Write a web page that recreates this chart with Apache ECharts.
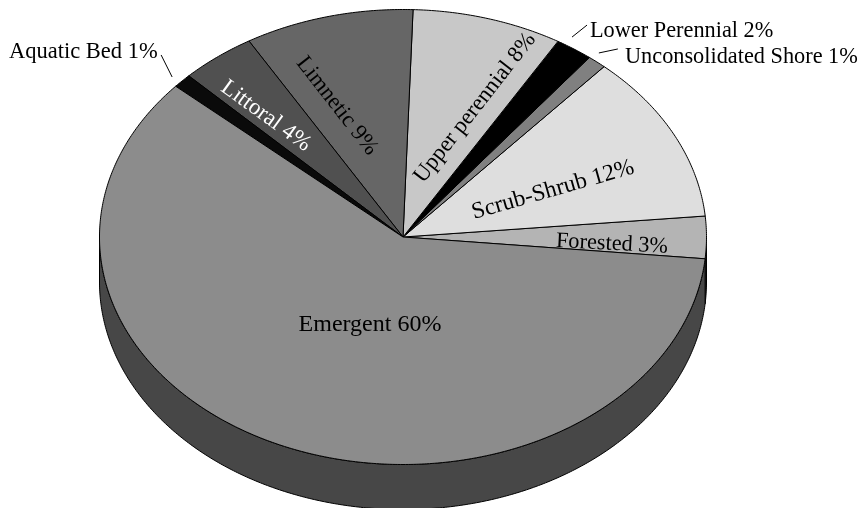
<!DOCTYPE html>
<html>
<head>
<meta charset="utf-8">
<style>html,body{margin:0;padding:0;background:#fff}#c{width:863px;height:508px}</style>
<script src="https://cdn.jsdelivr.net/npm/echarts@6/dist/echarts.min.js"></script>
</head>
<body>
<div id="c"></div>
<script>
// Wetland class shares, in drawing order (counter-clockwise from the Emergent/Forested edge).
var categories = ['Forested', 'Scrub-Shrub', 'Unconsolidated Shore', 'Lower Perennial', 'Upper perennial', 'Limnetic', 'Littoral', 'Aquatic Bed', 'Emergent'];
var shares = [3, 12, 1, 2, 8, 9, 4, 1, 60];
var sliceColors = ['#b4b4b4', '#dedede', '#808080', '#000000', '#c8c8c8', '#666666', '#505050', '#0a0a0a', '#8c8c8c'];
var labelColors = ['#000', '#000', '#000', '#000', '#000', '#000', '#fff', '#000', '#000'];

// Label anchor relative to the disc centre, rotation in degrees, text anchor, font size.
var labelPlacement = [
  [209, 7, -3, 'center', 22.3],
  [150, -47, 16, 'center', 23.5],
  [222, -180, 0, 'left', 22.3],
  [187, -206, 0, 'left', 22.3],
  [72, -129, 52, 'center', 22.8],
  [-66, -131, -52, 'center', 22.8],
  [-137, -121, -36, 'center', 23],
  [-394, -185, 0, 'left', 22.5],
  [-33, 88, 0, 'center', 24]
];
// Leader ticks for the labels sitting outside the disc, as offsets from the rim point of the slice.
var leaderOffsets = {
  2: [21, -13, 2, -9],
  3: [13, -24, -2, -12],
  7: [-21, -26, -10, -4]
};

var disc = { cx: 403, cy: 237, rx: 303.5, ry: 227.5, depth: 45, startDeg: 5.5 };
var total = shares.reduce(function (a, b) { return a + b; }, 0);

function rim(deg, drop) {
  var t = deg * Math.PI / 180;
  return [disc.cx + disc.rx * Math.cos(t), disc.cy + disc.ry * Math.sin(t) + (drop || 0)];
}
// Angular span of a slice; y grows downward, so going counter-clockwise on screen lowers the angle.
function sliceSpan(i) {
  var before = 0;
  for (var k = 0; k < i; k++) before += shares[k];
  var a0 = disc.startDeg - before / total * 360;
  return [a0, a0 - shares[i] / total * 360];
}
function arcPoints(from, to, drop) {
  var n = Math.max(2, Math.ceil(Math.abs(to - from) * 2)), pts = [];
  for (var j = 0; j <= n; j++) pts.push(rim(from + (to - from) * j / n, drop));
  return pts;
}

var tableData = shares.map(function (v, i) { return [i, v]; });

var option = {
  animation: false,
  backgroundColor: '#fff',
  series: [
    {
      // Outer wall of the disc: only the part of each slice facing the viewer.
      type: 'custom',
      coordinateSystem: 'none',
      silent: true,
      z: 1,
      data: tableData,
      renderItem: function (params, api) {
        var i = api.value(0), s = sliceSpan(i);
        var children = [];
        // The lower half of the rim is 0..180 deg; spans may sit one full turn below it.
        [0, 360].forEach(function (shift) {
          var a = Math.min(s[0] + shift, 180), b = Math.max(s[1] + shift, 0);
          if (a > b) {
            var top = arcPoints(a, b, 0), bottom = arcPoints(b, a, disc.depth);
            children.push({
              type: 'polygon',
              shape: { points: top.concat(bottom) },
              style: { fill: '#474747', stroke: '#000', lineWidth: 1 }
            });
          }
        });
        return { type: 'group', children: children };
      }
    },
    {
      // Top face of each slice.
      type: 'custom',
      coordinateSystem: 'none',
      silent: true,
      z: 2,
      data: tableData,
      renderItem: function (params, api) {
        var i = api.value(0), s = sliceSpan(i);
        var pts = [[disc.cx, disc.cy]].concat(arcPoints(s[0], s[1], 0));
        return {
          type: 'polygon',
          shape: { points: pts },
          style: { fill: sliceColors[i], stroke: '#000', lineWidth: 1, lineJoin: 'round' }
        };
      }
    },
    {
      // Category labels and their leader ticks.
      type: 'custom',
      coordinateSystem: 'none',
      silent: true,
      z: 3,
      data: tableData,
      renderItem: function (params, api) {
        var i = api.value(0), v = api.value(1), p = labelPlacement[i];
        var children = [{
          type: 'text',
          x: disc.cx + p[0],
          y: disc.cy + p[1],
          rotation: p[2] * Math.PI / 180,
          style: {
            text: categories[i] + ' ' + v + '%',
            fill: labelColors[i],
            font: p[4] + 'px "Liberation Serif", "Times New Roman", serif',
            textAlign: p[3],
            textVerticalAlign: 'middle'
          }
        }];
        var off = leaderOffsets[i];
        if (off) {
          var s = sliceSpan(i), r = rim((s[0] + s[1]) / 2, 0);
          children.push({
            type: 'line',
            shape: { x1: r[0] + off[0], y1: r[1] + off[1], x2: r[0] + off[2], y2: r[1] + off[3] },
            style: { stroke: '#000', lineWidth: 1 }
          });
        }
        return { type: 'group', children: children };
      }
    }
  ]
};
echarts.init(document.getElementById('c'), null, { renderer: 'canvas' }).setOption(option);
</script>
</body>
</html>
